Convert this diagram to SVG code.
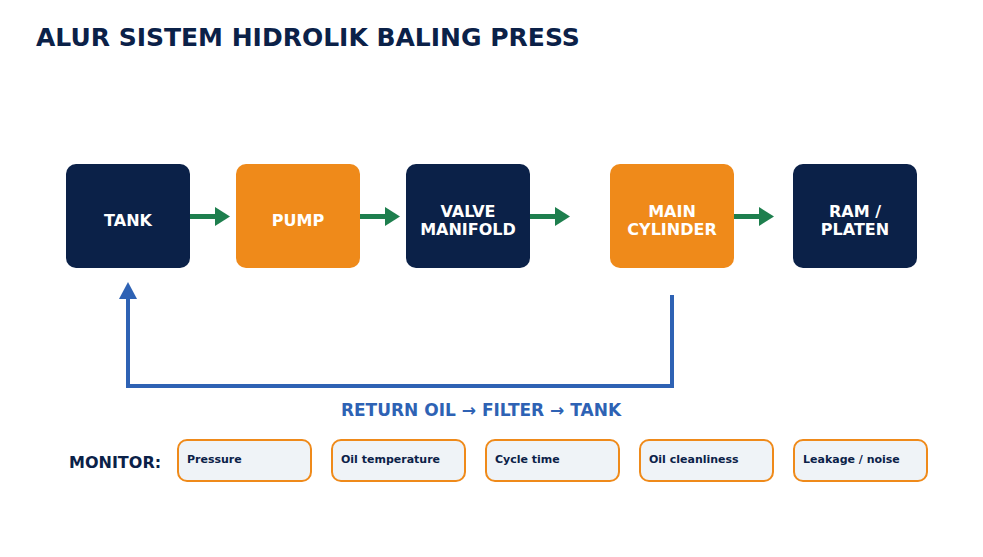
<svg xmlns="http://www.w3.org/2000/svg" width="983" height="557" viewBox="0 0 983 557">
<defs>
<style>
.t{font-family:"DejaVu Sans",sans-serif;font-weight:bold}
.title{font-size:25px;fill:#0b2148}
.nl{font-size:16px;fill:#ffffff;text-anchor:middle}
.navy{fill:#0b2148}
.orange{fill:#ef8a1a}
.flow{stroke:#1e7f4e;stroke-width:5;fill:none}
.head{fill:#1e7f4e}
.ret{stroke:#2e62b4;stroke-width:4;fill:none}
.mb{fill:#eff3f7;stroke:#ef8a1a;stroke-width:2}
.ml{font-size:11px;fill:#0b2148}
</style>
</defs>
<rect width="983" height="557" fill="#ffffff"/>
<text class="t title" x="36" y="46">ALUR SISTEM HIDROLIK BALING PRESS</text>

<g id="tank"><rect class="navy" x="66" y="164" width="124" height="104" rx="10"/><text class="t nl" x="128" y="226">TANK</text></g>
<g id="pump"><rect class="orange" x="236" y="164" width="124" height="104" rx="10"/><text class="t nl" x="298" y="226">PUMP</text></g>
<g id="valve"><rect class="navy" x="406" y="164" width="124" height="104" rx="10"/><text class="t nl" x="468" y="217">VALVE</text><text class="t nl" x="468" y="235">MANIFOLD</text></g>
<g id="cylinder"><rect class="orange" x="610" y="164" width="124" height="104" rx="10"/><text class="t nl" x="672" y="217">MAIN</text><text class="t nl" x="672" y="235">CYLINDER</text></g>
<g id="ram"><rect class="navy" x="793" y="164" width="124" height="104" rx="10"/><text class="t nl" x="855" y="217">RAM /</text><text class="t nl" x="855" y="235">PLATEN</text></g>

<g id="connectors">
<path class="flow" d="M190,216.5 H218"/><path class="head" d="M215,207 L230,216.5 L215,226 Z"/>
<path class="flow" d="M360,216.5 H388"/><path class="head" d="M385,207 L400,216.5 L385,226 Z"/>
<path class="flow" d="M530,216.5 H558"/><path class="head" d="M555,207 L570,216.5 L555,226 Z"/>
<path class="flow" d="M734,216.5 H762"/><path class="head" d="M759,207 L774,216.5 L759,226 Z"/>
<path class="ret" d="M672,295 V386 H128 V297"/>
<path d="M119,299 L128,282 L137,299 Z" fill="#2e62b4"/>
</g>
<text class="t" x="481" y="416" font-size="17" fill="#2e62b4" text-anchor="middle">RETURN OIL → FILTER → TANK</text>

<text class="t" x="69" y="468" font-size="16" fill="#0b2148">MONITOR:</text>
<g id="m1"><rect class="mb" x="178" y="440" width="133" height="41" rx="9"/><text class="t ml" x="187" y="463">Pressure</text></g>
<g id="m2"><rect class="mb" x="332" y="440" width="133" height="41" rx="9"/><text class="t ml" x="341" y="463">Oil temperature</text></g>
<g id="m3"><rect class="mb" x="486" y="440" width="133" height="41" rx="9"/><text class="t ml" x="495" y="463">Cycle time</text></g>
<g id="m4"><rect class="mb" x="640" y="440" width="133" height="41" rx="9"/><text class="t ml" x="649" y="463">Oil cleanliness</text></g>
<g id="m5"><rect class="mb" x="794" y="440" width="133" height="41" rx="9"/><text class="t ml" x="803" y="463">Leakage / noise</text></g>
</svg>
